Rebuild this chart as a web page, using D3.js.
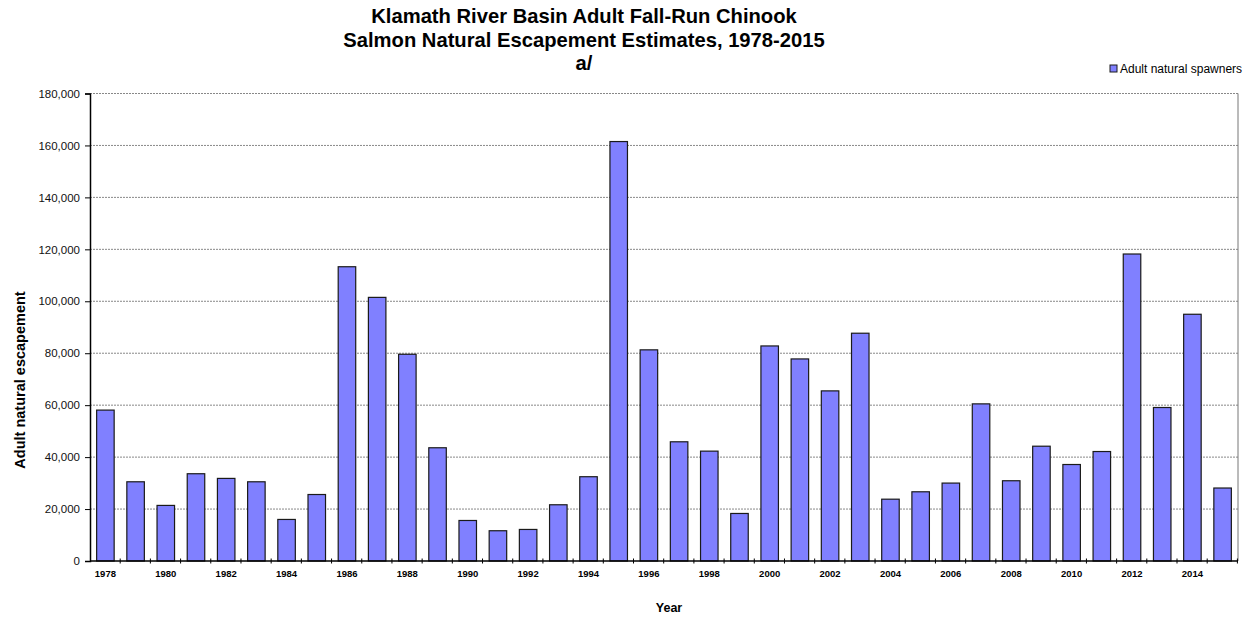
<!DOCTYPE html>
<html>
<head>
<meta charset="utf-8">
<script src="https://cdn.jsdelivr.net/npm/d3@7"></script>
<style>
    body { margin: 0; background: #fff; }
    svg { font-family: "Liberation Sans", Arial, sans-serif; }
    .grid line { stroke: #888; stroke-dasharray: 2,1; }
    .axis path, .axis line { stroke: #000; }
</style>
</head>
<body>
<svg id="chart"></svg>
<script>
// Klamath River adult natural spawners
const years = d3.range(1978, 2016);
const spawners = [
    58100, 30500, 21400, 33600, 31800, 30500, 16000, 25600,
    113300, 101500, 79600, 43600, 15600, 11650, 12150, 21650,
    32450, 161500, 81300, 45900, 42300, 18300, 82800, 77800,
    65500, 87700, 23800, 26650, 30000, 60500, 30900, 44200,
    37150, 42150, 118200, 59100, 95000, 28100
];
const yTicks = [0, 20000, 40000, 60000, 80000, 100000, 120000, 140000, 160000, 180000];
const titleLines = [
    "Klamath River Basin Adult Fall-Run Chinook",
    "Salmon Natural Escapement Estimates, 1978-2015",
    "a/"
];
const seriesName = "Adult natural spawners";

const data = years.map((y, i) => ({ year: y, value: spawners[i] }));

const width = 1252, height = 617;
const margin = { top: 93.5, right: 14, bottom: 56, left: 90 };
const innerW = width - margin.left - margin.right;
const innerH = height - margin.top - margin.bottom;

const svg = d3.select("#chart")
    .attr("width", width)
    .attr("height", height);

const chart = svg.append("g")
    .attr("transform", `translate(${margin.left},${margin.top})`);

const xScale = d3.scaleBand()
    .domain(years)
    .range([0, innerW])
    .paddingInner(0.42)
    .paddingOuter(0.22);

const yScale = d3.scaleLinear()
    .domain([0, 180000])
    .range([innerH, 0]);

// gridlines
chart.append("g")
    .attr("class", "grid")
    .selectAll("line")
    .data(yTicks.filter(d => d > 0))
    .join("line")
    .attr("x1", 0)
    .attr("x2", innerW)
    .attr("y1", d => yScale(d))
    .attr("y2", d => yScale(d));

// right border
chart.append("line")
    .attr("x1", innerW).attr("x2", innerW)
    .attr("y1", 0).attr("y2", innerH)
    .attr("stroke", "#777");

// bars
chart.selectAll(".bar")
    .data(data)
    .join("rect")
    .attr("class", "bar")
    .attr("x", d => xScale(d.year))
    .attr("width", xScale.bandwidth())
    .attr("y", d => yScale(d.value))
    .attr("height", d => innerH - yScale(d.value))
    .attr("fill", "#8080ff")
    .attr("stroke", "#1a1a1a")
    .attr("stroke-width", 1.2);

// y axis
const yAxis = d3.axisLeft(yScale)
    .tickValues(yTicks)
    .tickSize(5)
    .tickPadding(5)
    .tickFormat(d3.format(","));

const yAxisG = chart.append("g")
    .attr("class", "axis y-axis")
    .call(yAxis);
yAxisG.select(".domain").attr("stroke-width", 1.5);
yAxisG.selectAll("text")
    .attr("font-size", 11.5)
    .attr("fill", "#111");

// x axis: ticks at band edges crossing the axis line
const step = xScale.step();
const xAxisG = chart.append("g")
    .attr("class", "axis x-axis")
    .attr("transform", `translate(0,${innerH})`);

xAxisG.append("line")
    .attr("x1", 0).attr("x2", innerW)
    .attr("stroke-width", 1.5);

xAxisG.selectAll(".tick-mark")
    .data(d3.range(1, years.length + 1))
    .join("line")
    .attr("class", "tick-mark")
    .attr("x1", i => i * step)
    .attr("x2", i => i * step)
    .attr("y1", -2.5)
    .attr("y2", 2.5);

xAxisG.selectAll(".tick-label")
    .data(years.filter(y => (y - 1978) % 2 === 0))
    .join("text")
    .attr("class", "tick-label")
    .attr("x", d => xScale(d) + xScale.bandwidth() / 2)
    .attr("y", 16)
    .attr("text-anchor", "middle")
    .attr("font-size", 9.5)
    .attr("font-weight", "bold")
    .text(d => d);

// axis titles
svg.append("text")
    .attr("x", margin.left + innerW / 2 + 5)
    .attr("y", 612)
    .attr("text-anchor", "middle")
    .attr("font-size", 12.5)
    .attr("font-weight", "bold")
    .text("Year");

svg.append("text")
    .attr("transform", "translate(25,380) rotate(-90)")
    .attr("text-anchor", "middle")
    .attr("font-size", 14.5)
    .attr("font-weight", "bold")
    .text("Adult natural escapement");

// title
svg.append("g")
    .selectAll("text")
    .data(titleLines)
    .join("text")
    .attr("x", 584)
    .attr("y", (d, i) => 23 + i * 23.5)
    .attr("text-anchor", "middle")
    .attr("font-size", 20.2)
    .attr("font-weight", "bold")
    .text(d => d);

// legend
const legend = svg.append("g")
    .attr("transform", "translate(1110,65)");
legend.append("rect")
    .attr("width", 7)
    .attr("height", 7)
    .attr("fill", "#8080ff")
    .attr("stroke", "#1a1a1a");
legend.append("text")
    .attr("x", 10)
    .attr("y", 8)
    .attr("font-size", 12)
    .text(seriesName);
</script>
</body>
</html>
